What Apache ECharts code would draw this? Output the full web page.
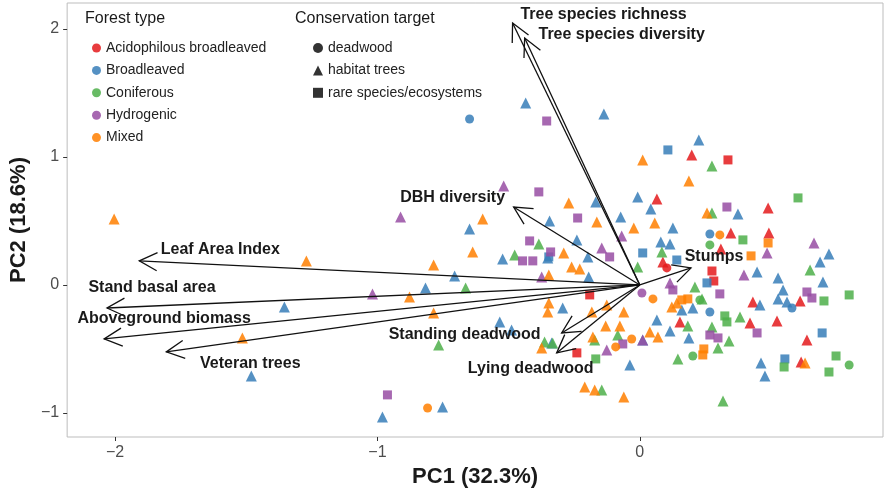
<!DOCTYPE html>
<html>
<head>
<meta charset="utf-8">
<script src="https://cdn.jsdelivr.net/npm/echarts@6/dist/echarts.min.js"></script>
<style>
  html, body { margin: 0; padding: 0; background: #ffffff; }
  #chart { width: 885px; height: 493px; }
</style>
</head>
<body>
<div id="chart"></div>
<script>
// PCA site scores: [PC1, PC2, conservation target]
// target codes: d = deadwood, h = habitat trees, r = rare species/ecosystems
const acidophilous = [
  [0.065, 0.672, 'h'], [0.198, 1.016, 'h'], [0.336, 0.977, 'r'], [0.489, 0.602, 'h'],
  [0.347, 0.406, 'h'], [0.492, 0.406, 'h'], [0.309, 0.281, 'h'], [0.275, 0.109, 'r'],
  [0.282, 0.031, 'r'], [0.431, -0.133, 'h'], [0.611, -0.125, 'h'], [0.523, -0.281, 'h'],
  [0.420, -0.297, 'h'], [0.637, -0.430, 'h'], [0.615, -0.602, 'h'], [0.103, 0.133, 'd'],
  [0.088, 0.180, 'h'], [-0.191, -0.078, 'r'], [-0.240, -0.531, 'r'], [0.153, -0.289, 'h']
];
const broadleaved = [
  [-0.649, 1.297, 'd'], [-0.435, 1.422, 'h'], [-0.137, 1.336, 'h'], [0.107, 1.055, 'r'],
  [0.225, 1.133, 'h'], [-0.008, 0.688, 'h'], [-0.168, 0.648, 'h'], [0.042, 0.594, 'h'],
  [-0.073, 0.531, 'h'], [-0.344, 0.500, 'h'], [-0.649, 0.438, 'h'], [0.126, 0.445, 'h'],
  [0.080, 0.336, 'h'], [0.115, 0.320, 'h'], [0.374, 0.555, 'h'], [0.267, 0.398, 'd'],
  [0.721, 0.242, 'h'], [0.687, 0.180, 'h'], [0.447, 0.102, 'h'], [0.527, 0.055, 'h'],
  [0.698, 0.023, 'h'], [0.256, 0.016, 'r'], [0.546, -0.039, 'h'], [0.527, -0.109, 'h'],
  [0.561, -0.133, 'h'], [0.580, -0.180, 'd'], [0.267, -0.211, 'd'], [0.202, -0.180, 'h'],
  [0.458, -0.156, 'h'], [0.695, -0.375, 'r'], [0.187, -0.414, 'h'], [0.462, -0.609, 'h'],
  [0.477, -0.711, 'h'], [0.553, -0.578, 'r'], [0.065, -0.273, 'h'], [0.115, -0.359, 'h'],
  [-0.038, -0.625, 'h'], [-0.294, -0.180, 'h'], [-0.534, -0.289, 'h'], [-0.489, -0.352, 'h'],
  [-0.336, -0.453, 'h'], [-0.752, -0.953, 'h'], [-0.981, -1.031, 'h'], [-1.355, -0.172, 'h'],
  [-1.481, -0.711, 'h'], [-0.817, -0.023, 'h'], [-0.706, 0.070, 'h'], [-0.240, 0.352, 'h'],
  [-0.198, 0.219, 'h'], [-0.347, 0.219, 'r'], [0.011, 0.250, 'r'], [-0.195, 0.063, 'h'],
  [-0.523, 0.203, 'h'], [-0.351, 0.211, 'h'], [0.141, 0.195, 'r'], [0.011, -0.430, 'h'],
  [0.160, -0.195, 'h']
];
const coniferous = [
  [0.275, 0.930, 'h'], [0.603, 0.680, 'r'], [0.275, 0.563, 'h'], [0.393, 0.352, 'r'],
  [0.267, 0.313, 'd'], [0.649, 0.117, 'h'], [0.210, -0.016, 'h'], [0.237, -0.109, 'h'],
  [0.229, -0.117, 'd'], [0.702, -0.125, 'r'], [0.798, -0.078, 'r'], [0.324, -0.242, 'r'],
  [0.332, -0.289, 'r'], [0.382, -0.250, 'h'], [0.275, -0.328, 'h'], [0.183, -0.320, 'h'],
  [0.340, -0.438, 'h'], [0.298, -0.492, 'h'], [0.202, -0.555, 'd'], [0.145, -0.578, 'h'],
  [0.550, -0.641, 'r'], [0.748, -0.555, 'r'], [0.798, -0.625, 'd'], [0.721, -0.680, 'r'],
  [0.317, -0.906, 'h'], [-0.008, 0.141, 'h'], [0.084, 0.258, 'h'], [-0.385, 0.320, 'h'],
  [-0.477, 0.234, 'h'], [-0.664, -0.023, 'h'], [-0.767, -0.469, 'h'], [-0.363, -0.445, 'h'],
  [-0.332, -0.453, 'h'], [-0.168, -0.578, 'r'], [-0.084, -0.391, 'h'], [-0.172, -0.430, 'h'],
  [-0.145, -0.820, 'h']
];
const hydrogenic = [
  [-0.355, 1.281, 'r'], [-0.519, 0.773, 'h'], [-0.385, 0.727, 'r'], [-0.912, 0.531, 'h'],
  [-0.237, 0.523, 'r'], [-0.420, 0.344, 'r'], [-0.340, 0.258, 'r'], [-0.447, 0.188, 'r'],
  [-0.408, 0.188, 'r'], [-0.145, 0.289, 'h'], [-0.115, 0.219, 'r'], [-0.374, 0.063, 'h'],
  [-1.019, -0.070, 'h'], [0.332, 0.609, 'r'], [0.485, 0.250, 'h'], [0.664, 0.328, 'h'],
  [0.397, 0.078, 'h'], [0.115, 0.016, 'h'], [0.126, -0.039, 'r'], [0.008, -0.063, 'd'],
  [0.305, -0.070, 'r'], [0.637, -0.055, 'r'], [0.656, -0.102, 'r'], [0.447, -0.375, 'r'],
  [0.267, -0.391, 'r'], [0.298, -0.414, 'r'], [-0.065, -0.461, 'r'], [-0.126, -0.508, 'h'],
  [0.011, -0.430, 'h'], [-0.962, -0.859, 'r'], [-0.069, 0.383, 'h']
];
const mixed = [
  [-2.004, 0.516, 'h'], [-1.271, 0.188, 'h'], [-1.515, -0.414, 'h'], [-0.878, -0.094, 'h'],
  [-0.786, 0.156, 'h'], [-0.637, 0.258, 'h'], [-0.599, 0.516, 'h'], [-0.271, 0.641, 'h'],
  [0.011, 0.977, 'h'], [-0.164, 0.492, 'h'], [-0.023, 0.445, 'h'], [0.057, 0.484, 'h'],
  [0.187, 0.813, 'h'], [0.256, 0.563, 'h'], [0.305, 0.391, 'd'], [0.489, 0.328, 'r'],
  [0.424, 0.227, 'r'], [-0.290, 0.250, 'h'], [-0.260, 0.141, 'h'], [-0.229, 0.125, 'h'],
  [-0.347, 0.078, 'h'], [-0.347, -0.141, 'h'], [-0.351, -0.211, 'h'], [0.050, -0.109, 'd'],
  [-0.126, -0.156, 'h'], [-0.183, -0.211, 'h'], [-0.061, -0.211, 'h'], [-0.130, -0.320, 'h'],
  [-0.076, -0.320, 'h'], [0.038, -0.367, 'h'], [0.069, -0.406, 'h'], [-0.179, -0.406, 'h'],
  [-0.092, -0.484, 'd'], [-0.031, -0.422, 'd'], [-0.374, -0.492, 'h'], [-0.786, -0.219, 'h'],
  [-0.809, -0.961, 'd'], [-0.210, -0.797, 'h'], [-0.172, -0.820, 'h'], [-0.061, -0.875, 'h'],
  [0.160, -0.117, 'r'], [0.183, -0.109, 'r'], [0.122, -0.172, 'h'], [0.141, -0.141, 'h'],
  [0.244, -0.500, 'r'], [0.240, -0.547, 'r'], [0.630, -0.609, 'h']
];

const forestTypes = ['Acidophilous broadleaved', 'Broadleaved', 'Coniferous', 'Hydrogenic', 'Mixed'];
const forestData = [acidophilous, broadleaved, coniferous, hydrogenic, mixed];
const forestColors = ['#E41A1C', '#377EB8', '#4DAF4A', '#984EA3', '#FF7F00'];

const targetNames = ['deadwood', 'habitat trees', 'rare species/ecosystems'];
const targetCodes = ['d', 'h', 'r'];

// Variable loadings (arrow tips)
const loadingNames = ['Tree species richness', 'Tree species diversity', 'DBH diversity',
  'Leaf Area Index', 'Stand basal area', 'Aboveground biomass', 'Veteran trees',
  'Standing deadwood', 'Lying deadwood', 'Stumps'];
const loadingPC1 = [-0.485, -0.439, -0.481, -1.908, -2.031, -2.042, -1.805, -0.298, -0.317, 0.195];
const loadingPC2 = [2.047, 1.930, 0.609, 0.188, -0.180, -0.422, -0.523, -0.375, -0.531, 0.133];

const xTicks = [-2, -1, 0];
const yTicks = [-1, 0, 1, 2];

// label placement relative to the arrow tip, in pixels
const labelOffsets = [[91, -8], [97, -3], [-61, -9], [81, -11], [45, -20],
  [60, -20], [84, 12], [-97, 2], [-26, 16], [23, -11]];

const shapeSymbol = { d: 'circle', h: 'triangle', r: 'rect' };
const shapeSize = { d: 9, h: 11, r: 9 };

const FONT = '"Liberation Sans", Arial, Helvetica, sans-serif';
const minusSign = v => String(v).replace('-', '\u2212');

const series = forestData.map((rows, i) => ({
  name: forestTypes[i],
  type: 'scatter',
  z: 2,
  itemStyle: { color: forestColors[i], opacity: 0.85 },
  emphasis: { disabled: true },
  data: rows.map(r => ({
    value: [r[0], r[1]],
    symbol: shapeSymbol[r[2]],
    symbolSize: shapeSize[r[2]]
  }))
}));

targetNames.forEach((name, i) => {
  series.push({
    name: name,
    type: 'scatter',
    symbol: shapeSymbol[targetCodes[i]],
    itemStyle: { color: '#000000' },
    data: []
  });
});

// Loading arrows drawn through the coordinate system
series.push({
  type: 'custom',
  z: 10,
  silent: true,
  data: loadingNames.map((n, i) => [loadingPC1[i], loadingPC2[i], i]),
  renderItem: function (params, api) {
    const idx = api.value(2);
    const o = api.coord([0, 0]);
    const t = api.coord([api.value(0), api.value(1)]);
    const ang = Math.atan2(t[1] - o[1], t[0] - o[0]);
    const L = 20, s = 0.47;
    const w1 = [t[0] - L * Math.cos(ang - s), t[1] - L * Math.sin(ang - s)];
    const w2 = [t[0] - L * Math.cos(ang + s), t[1] - L * Math.sin(ang + s)];
    const off = labelOffsets[idx];
    return {
      type: 'group',
      children: [
        { type: 'line', shape: { x1: o[0], y1: o[1], x2: t[0], y2: t[1] },
          style: { stroke: '#111', lineWidth: 1.3 } },
        { type: 'polyline', shape: { points: [w1, t, w2] },
          style: { stroke: '#111', lineWidth: 1.3, fill: null } },
        { type: 'text', x: t[0] + off[0], y: t[1] + off[1],
          style: { text: loadingNames[idx], fill: '#1a1a1a', font: 'bold 16px ' + FONT,
                   align: 'center', verticalAlign: 'middle' } }
      ]
    };
  }
});

const chart = echarts.init(document.getElementById('chart'), null, { renderer: 'canvas' });
chart.setOption({
  animation: false,
  backgroundColor: '#ffffff',
  textStyle: { fontFamily: FONT },
  grid: { left: 67, right: 2, top: 3, bottom: 56, show: true, borderColor: '#bdbdbd', borderWidth: 1, backgroundColor: 'transparent' },
  xAxis: {
    type: 'value', min: -2.183, max: 0.927,
    name: 'PC1 (32.3%)', nameLocation: 'middle', nameGap: 18,
    nameTextStyle: { fontSize: 22, fontWeight: 'bold', color: '#1a1a1a', fontFamily: FONT },
    axisLine: { show: false, onZero: false },
    splitLine: { show: false },
    axisTick: { show: true, length: 4, lineStyle: { color: '#333' }, customValues: xTicks },
    axisLabel: { fontSize: 16, color: '#4d4d4d', margin: 8, customValues: xTicks, formatter: minusSign }
  },
  yAxis: {
    type: 'value', min: -1.188, max: 2.203,
    name: 'PC2 (18.6%)', nameLocation: 'middle', nameGap: 32, nameRotate: 90,
    nameTextStyle: { fontSize: 22, fontWeight: 'bold', color: '#1a1a1a', fontFamily: FONT },
    axisLine: { show: false, onZero: false },
    splitLine: { show: false },
    axisTick: { show: true, length: 4, lineStyle: { color: '#333' }, customValues: yTicks },
    axisLabel: { fontSize: 16, color: '#4d4d4d', margin: 8, customValues: yTicks, formatter: minusSign }
  },
  legend: [
    {
      orient: 'vertical', left: 87, top: 35,
      itemWidth: 9, itemHeight: 9, itemGap: 6.4, itemTextGap: 17,
      selectedMode: false,
      textStyle: { fontSize: 14, lineHeight: 16, color: '#222', fontFamily: FONT },
      data: forestTypes.map(n => ({ name: n, icon: 'circle' }))
    },
    {
      orient: 'vertical', left: 308, top: 35,
      itemWidth: 10, itemHeight: 10, itemGap: 6.4, itemTextGap: 15,
      selectedMode: false,
      textStyle: { fontSize: 14, lineHeight: 16, color: '#222', fontFamily: FONT },
      data: targetNames.map((n, i) => ({ name: n, icon: shapeSymbol[targetCodes[i]] }))
    }
  ],
  graphic: [
    { type: 'text', left: 85, top: 11, style: { text: 'Forest type', font: '16px ' + FONT, fill: '#1a1a1a' } },
    { type: 'text', left: 295, top: 11, style: { text: 'Conservation target', font: '16px ' + FONT, fill: '#1a1a1a' } }
  ],
  series: series
});
</script>
</body>
</html>
